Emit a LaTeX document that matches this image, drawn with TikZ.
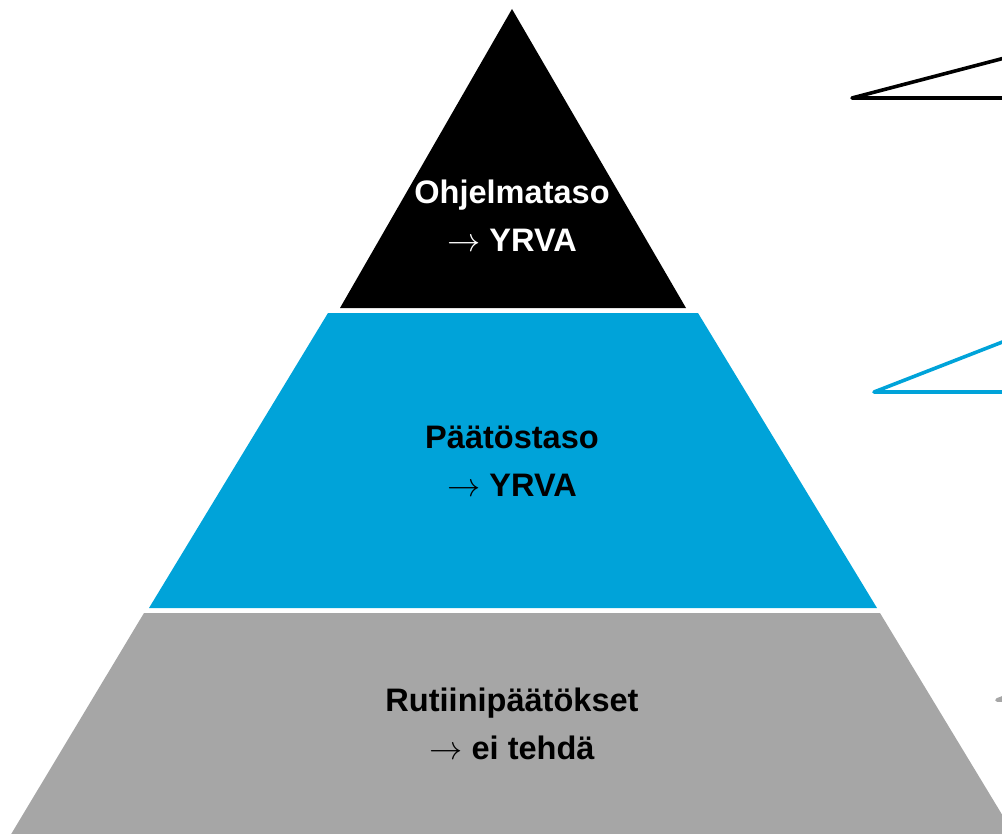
\documentclass[tikz,border=0pt]{standalone}
\usepackage{fontspec}
\setmainfont{Liberation Sans}
\definecolor{yrvablue}{RGB}{0,163,217}
\definecolor{yrvagray}{RGB}{166,166,166}
\newcommand{\arr}{$\rightarrow$}

\begin{document}
\begin{tikzpicture}[x=0.75pt,y=-0.75pt,
    level text/.style={align=center,font=\fontsize{24.4}{36}\selectfont\bfseries},
    callout/.style={line width=3.6pt*0.75,line join=round,line cap=round}]
  \clip (0,0) rectangle (1002,834);
  % pyramid levels
  \fill[black] (512,9) -- (686,308) -- (340,308) -- cycle;
  \fill[yrvablue] (328,313) -- (698,313) -- (877,608) -- (149,608) -- cycle;
  \fill[yrvagray] (144,613) -- (880,613) -- (1015,836) -- (10,836) -- cycle;

  \node[level text,text=white] (top) at (512,216) {Ohjelmataso\\\arr{} YRVA};
  \node[level text] (mid) at (512,461) {Päätöstaso\\\arr{} YRVA};
  \node[level text] (low) at (512,724) {Rutiinipäätökset\\\arr{} ei tehdä};

  % callouts on the right
  \draw[callout,black] (1100,33) -- (852,98) -- (1100,98);
  \draw[callout,yrvablue] (1100,304) -- (874,392) -- (1100,392);
  \draw[callout,yrvagray] (1100,660) -- (997,700) -- (1100,700);
\end{tikzpicture}
\end{document}
